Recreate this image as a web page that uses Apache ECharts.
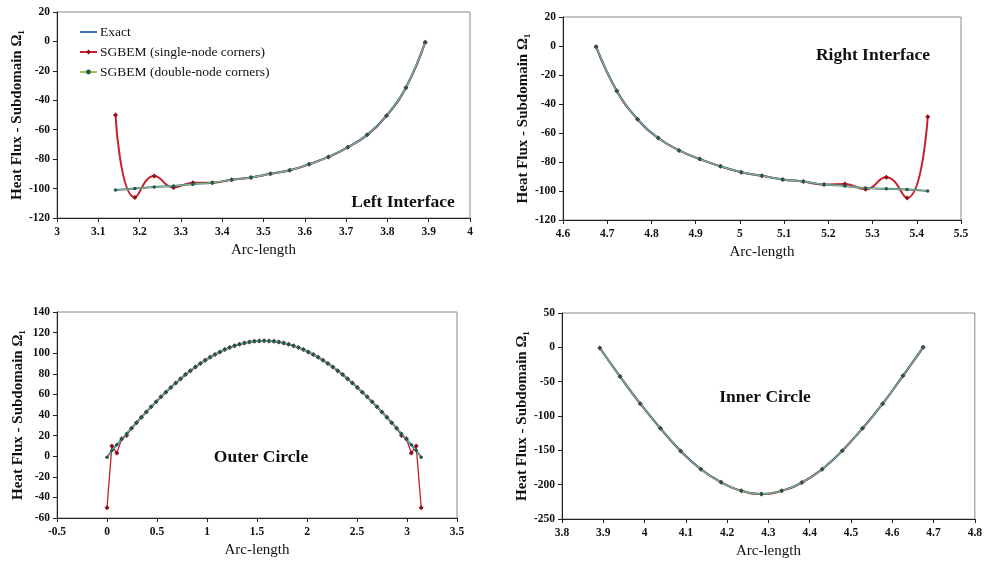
<!DOCTYPE html>
<html>
<head>
<meta charset="utf-8">
<script src="https://cdn.jsdelivr.net/npm/echarts@6/dist/echarts.min.js"></script>
<style>html,body{margin:0;padding:0;background:#fff}#c{width:985px;height:565px}</style>
</head>
<body>
<div id="c"></div>
<script>
// ---- Left Interface ----
const leftX = [3.1416, 3.1885, 3.2354, 3.2822, 3.3291, 3.3760, 3.4229, 3.4697, 3.5166, 3.5635, 3.6104, 3.6572, 3.7041, 3.7510, 3.7979, 3.8447, 3.8916];
const leftExact = [-101, -100, -99, -98.2, -97, -96, -94, -92.5, -90, -87.5, -83.5, -78.5, -72, -63.5, -50.5, -31.5, -0.5];
const leftSingle = [-50, -106, -91.5, -99.3, -96, -96, -94, -92.5, -90, -87.5, -83.5, -78.5, -72, -63.5, -50.5, -31.5, -0.5];
const leftDouble = [-101, -100, -99, -98.2, -97, -96, -94, -92.5, -90, -87.5, -83.5, -78.5, -72, -63.5, -50.5, -31.5, -0.5];
// ---- Right Interface ----
const rightX = [4.6748, 4.7217, 4.7686, 4.8154, 4.8623, 4.9092, 4.9561, 5.0029, 5.0498, 5.0967, 5.1436, 5.1904, 5.2373, 5.2842, 5.3311, 5.3780, 5.4248];
const rightExact = [-0.5, -31, -50.5, -63.5, -72, -78, -83, -87, -89.5, -92, -93.5, -95.5, -96.5, -98, -98.5, -99, -100];
const rightSingle = [-0.5, -31, -50.5, -63.5, -72, -78, -83, -87, -89.5, -92, -93.5, -95.5, -95.2, -98.8, -90.5, -104.8, -48.8];
const rightDouble = [-0.5, -31, -50.5, -63.5, -72, -78, -83, -87, -89.5, -92, -93.5, -95.5, -96.5, -98, -98.5, -99, -100];
// ---- Outer Circle ----
const outerX = [0.000, 0.049, 0.098, 0.147, 0.196, 0.245, 0.295, 0.344, 0.393, 0.442, 0.491, 0.540, 0.589, 0.638, 0.687, 0.736, 0.785, 0.834, 0.884, 0.933, 0.982, 1.031, 1.080, 1.129, 1.178, 1.227, 1.276, 1.325, 1.374, 1.424, 1.473, 1.522, 1.571, 1.620, 1.669, 1.718, 1.767, 1.816, 1.865, 1.914, 1.963, 2.013, 2.062, 2.111, 2.160, 2.209, 2.258, 2.307, 2.356, 2.405, 2.454, 2.503, 2.553, 2.602, 2.651, 2.700, 2.749, 2.798, 2.847, 2.896, 2.945, 2.994, 3.043, 3.092, 3.142];
const outerExact = [-1, 5.5, 11, 16.4, 21.9, 27.2, 32.5, 37.7, 42.9, 47.9, 52.8, 57.6, 62.2, 66.7, 71.1, 75.3, 79.2, 83, 86.6, 90, 93.1, 96, 98.7, 101.2, 103.5, 105.5, 107.2, 108.7, 109.8, 110.8, 111.5, 111.9, 112, 111.9, 111.5, 110.8, 109.8, 108.7, 107.2, 105.5, 103.5, 101.2, 98.7, 96, 93.1, 90, 86.6, 83, 79.2, 75.3, 71.1, 66.7, 62.2, 57.6, 52.8, 47.9, 42.9, 37.7, 32.5, 27.2, 21.9, 16.4, 11, 5.5, -1];
const outerSingle = [-50, 10, 3, 17, 20, 27.2, 32.5, 37.7, 42.9, 47.9, 52.8, 57.6, 62.2, 66.7, 71.1, 75.3, 79.2, 83, 86.6, 90, 93.1, 96, 98.7, 101.2, 103.5, 105.5, 107.2, 108.7, 109.8, 110.8, 111.5, 111.9, 112, 111.9, 111.5, 110.8, 109.8, 108.7, 107.2, 105.5, 103.5, 101.2, 98.7, 96, 93.1, 90, 86.6, 83, 79.2, 75.3, 71.1, 66.7, 62.2, 57.6, 52.8, 47.9, 42.9, 37.7, 32.5, 27.2, 20, 17, 3, 10, -50];
const outerDouble = [-1, 5.5, 11, 16.4, 21.9, 27.2, 32.5, 37.7, 42.9, 47.9, 52.8, 57.6, 62.2, 66.7, 71.1, 75.3, 79.2, 83, 86.6, 90, 93.1, 96, 98.7, 101.2, 103.5, 105.5, 107.2, 108.7, 109.8, 110.8, 111.5, 111.9, 112, 111.9, 111.5, 110.8, 109.8, 108.7, 107.2, 105.5, 103.5, 101.2, 98.7, 96, 93.1, 90, 86.6, 83, 79.2, 75.3, 71.1, 66.7, 62.2, 57.6, 52.8, 47.9, 42.9, 37.7, 32.5, 27.2, 21.9, 16.4, 11, 5.5, -1];
// ---- Inner Circle ----
const innerX = [3.8916, 3.9406, 3.9895, 4.0385, 4.0874, 4.1364, 4.1853, 4.2343, 4.2832, 4.3322, 4.3811, 4.4301, 4.4790, 4.5280, 4.5769, 4.6259, 4.6748];
const innerExact = [-1, -42.5, -82, -118, -151, -177.5, -196.5, -209, -213.5, -209, -197, -177.5, -150.5, -118, -82, -41.5, 0];
const innerSingle = [-1, -42.5, -82, -118, -151, -177.5, -196.5, -209, -213.5, -209, -197, -177.5, -150.5, -118, -82, -41.5, 0];
const innerDouble = [-1, -42.5, -82, -118, -151, -177.5, -196.5, -209, -213.5, -209, -197, -177.5, -150.5, -118, -82, -41.5, 0];

const panelTitles = ['Left Interface', 'Right Interface', 'Outer Circle', 'Inner Circle'];
const seriesNames = ['Exact', 'SGBEM (single-node corners)', 'SGBEM (double-node corners)'];
const xTitle = 'Arc-length';
const yTitle = 'Heat Flux - Subdomain Ω\u2081';

const panels = [
  {x: leftX, e: leftExact, s: leftSingle, d: leftDouble, smoothS: true},
  {x: rightX, e: rightExact, s: rightSingle, d: rightDouble, smoothS: true},
  {x: outerX, e: outerExact, s: outerSingle, d: outerDouble, smoothS: false},
  {x: innerX, e: innerExact, s: innerSingle, d: innerDouble, smoothS: true}
];
const axisRanges = [
  {xmin: 3, xmax: 4, xi: 0.1, ymin: -120, ymax: 20, yi: 20},
  {xmin: 4.6, xmax: 5.5, xi: 0.1, ymin: -120, ymax: 20, yi: 20},
  {xmin: -0.5, xmax: 3.5, xi: 0.5, ymin: -60, ymax: 140, yi: 20},
  {xmin: 3.8, xmax: 4.8, xi: 0.1, ymin: -250, ymax: 50, yi: 50}
];

const FONT = '"Liberation Serif", "DejaVu Serif", serif';
const grids = [
  {left: 57, top: 12, width: 413, height: 206},
  {left: 563, top: 17, width: 398, height: 203},
  {left: 57, top: 312, width: 400, height: 206},
  {left: 562, top: 313, width: 415, height: 206}
];
const titlePos = [[403, 202], [873, 55], [261, 457], [765, 397]];

const zip = (xs, ys) => xs.map((v, i) => [v, ys[i]]);

const option = {
  animation: false,
  backgroundColor: '#fff',
  grid: grids.map(g => Object.assign({show: true, borderColor: '#8a8a8a', borderWidth: 1, backgroundColor: 'transparent', containLabel: false}, g)),
  xAxis: axisRanges.map((r, i) => ({
    type: 'value', gridIndex: i, min: r.xmin, max: r.xmax, interval: r.xi,
    name: xTitle, nameLocation: 'middle', nameGap: 25,
    nameTextStyle: {fontFamily: FONT, fontSize: 15, color: '#111'},
    axisLine: {show: true, onZero: false, lineStyle: {color: '#222', width: 1}},
    axisTick: {show: true, length: 4, lineStyle: {color: '#222'}},
    axisLabel: {fontFamily: FONT, fontSize: 11.5, fontWeight: 'bold', color: '#111', margin: 8},
    splitLine: {show: false}
  })),
  yAxis: axisRanges.map((r, i) => ({
    type: 'value', gridIndex: i, min: r.ymin, max: r.ymax, interval: r.yi,
    name: yTitle, nameLocation: 'middle', nameGap: i % 2 === 0 ? 31 : 30,
    nameTextStyle: {fontFamily: FONT, fontSize: 15, fontWeight: 'bold', color: '#111'},
    axisLine: {show: true, onZero: false, lineStyle: {color: '#222', width: 1}},
    axisTick: {show: true, length: 4, lineStyle: {color: '#222'}},
    axisLabel: {fontFamily: FONT, fontSize: 11.5, fontWeight: 'bold', color: '#111', margin: 7},
    splitLine: {show: false}
  })),
  legend: {
    orient: 'vertical', left: 74, top: 20, itemGap: 6, itemWidth: 17, itemHeight: 6,
    data: [
      {name: seriesNames[0], itemStyle: {opacity: 0}},
      {name: seriesNames[1]},
      {name: seriesNames[2]}
    ],
    textStyle: {fontFamily: FONT, fontSize: 13.5, color: '#111', padding: [0, 0, 0, -2]},
    selectedMode: false
  },
  graphic: panelTitles.map((t, i) => ({
    type: 'text', x: titlePos[i][0], y: titlePos[i][1], z: 100,
    style: {text: t, font: 'bold 17.5px ' + FONT, fill: '#111', textAlign: 'center', textVerticalAlign: 'middle'}
  })),
  series: []
};

panels.forEach((p, i) => {
  option.series.push({
    name: seriesNames[1], type: 'line', xAxisIndex: i, yAxisIndex: i, z: 2,
    data: zip(p.x, p.s), smooth: p.smoothS ? 0.5 : false,
    symbol: 'diamond', symbolSize: 5, showSymbol: true,
    lineStyle: {color: '#c8202a', width: p.smoothS ? 2 : 1.3},
    itemStyle: {color: '#8e0f14'}
  });
  option.series.push({
    name: seriesNames[0], type: 'line', xAxisIndex: i, yAxisIndex: i, z: 3,
    data: zip(p.x, p.e), smooth: 0.4, symbol: 'none',
    lineStyle: {color: '#3a6fb2', width: 2},
    itemStyle: {color: '#3a6fb2'}
  });
  option.series.push({
    name: seriesNames[2], type: 'line', xAxisIndex: i, yAxisIndex: i, z: 4,
    data: zip(p.x, p.d), smooth: 0.4,
    symbol: 'circle', symbolSize: 3.5, showSymbol: true,
    lineStyle: {color: '#9cc25a', width: 1},
    itemStyle: {color: '#1f5a48'}
  });
});

const chart = echarts.init(document.getElementById('c'), null, {renderer: 'canvas'});
chart.setOption(option);
</script>
</body>
</html>
